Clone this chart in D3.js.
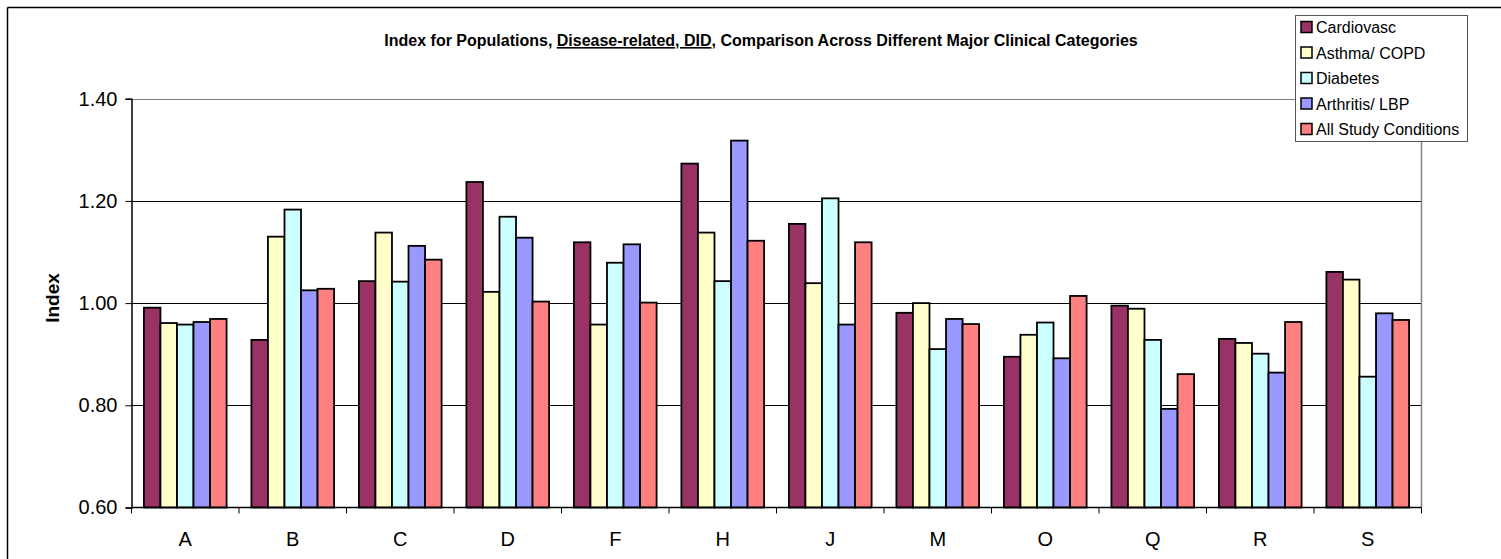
<!DOCTYPE html>
<html>
<head>
<meta charset="utf-8">
<script src="https://cdn.jsdelivr.net/npm/d3@7"></script>
<style>
  html, body { margin: 0; padding: 0; background: #fff; }
  svg { display: block; font-family: "Liberation Sans", Arial, sans-serif; }
</style>
</head>
<body>
<svg id="chart" width="1501" height="559"></svg>
<script>
const categories = ["A", "B", "C", "D", "F", "H", "J", "M", "O", "Q", "R", "S"];
const seriesNames = ["Cardiovasc", "Asthma/ COPD", "Diabetes", "Arthritis/ LBP", "All Study Conditions"];
const seriesColors = ["#993366", "#FFFFCC", "#CCFFFF", "#9999FF", "#FF8080"];
const cardiovasc = [0.991, 0.928, 1.043, 1.237, 1.119, 1.273, 1.155, 0.981, 0.895, 0.995, 0.930, 1.061];
const asthmaCopd = [0.961, 1.130, 1.138, 1.022, 0.958, 1.138, 1.039, 1.000, 0.938, 0.989, 0.922, 1.046];
const diabetes   = [0.958, 1.183, 1.042, 1.169, 1.079, 1.043, 1.205, 0.910, 0.962, 0.928, 0.901, 0.856];
const arthritis  = [0.963, 1.025, 1.112, 1.128, 1.115, 1.318, 0.958, 0.969, 0.892, 0.793, 0.864, 0.980];
const allStudy   = [0.969, 1.028, 1.085, 1.003, 1.001, 1.122, 1.119, 0.959, 1.014, 0.861, 0.963, 0.967];
const yTicks = [0.60, 0.80, 1.00, 1.20, 1.40];
const titleParts = ["Index for Populations, ", "Disease-related, DID", ", Comparison Across Different Major Clinical Categories"];

const seriesValues = [cardiovasc, asthmaCopd, diabetes, arthritis, allStudy];

const svg = d3.select("#chart");
const plot = { left: 131.5, right: 1421.5, top: 98.7, bottom: 507.5 };

// outer chart border (left & top visible)
svg.append("line").attr("x1", 7.5).attr("y1", 7.5).attr("x2", 1501).attr("y2", 7.5).attr("stroke", "#000").attr("stroke-width", 1.5);
svg.append("line").attr("x1", 7.5).attr("y1", 7.5).attr("x2", 7.5).attr("y2", 559).attr("stroke", "#000").attr("stroke-width", 1.5);

const x0 = d3.scaleBand().domain(categories).range([plot.left, plot.right])
  .paddingInner(1.5 / 6.5).paddingOuter(0.75 / 6.5);
const x1 = d3.scaleBand().domain(d3.range(seriesNames.length)).range([0, x0.bandwidth()]);
const y = d3.scaleLinear().domain([0.6, 1.4]).range([plot.bottom, plot.top]);

// gridlines
svg.append("g").selectAll("line").data(yTicks.filter(t => t > 0.6 && t < 1.4)).join("line")
  .attr("x1", plot.left).attr("x2", plot.right)
  .attr("y1", d => Math.round(y(d)) + 0.5).attr("y2", d => Math.round(y(d)) + 0.5)
  .attr("stroke", "#000").attr("stroke-width", 1);

// plot border top & right (gray)
svg.append("line").attr("x1", plot.left).attr("x2", plot.right)
  .attr("y1", Math.round(y(1.4)) + 0.5).attr("y2", Math.round(y(1.4)) + 0.5)
  .attr("stroke", "#808080").attr("stroke-width", 1.2);
svg.append("line").attr("x1", plot.right).attr("x2", plot.right)
  .attr("y1", y(1.4)).attr("y2", y(0.6))
  .attr("stroke", "#808080").attr("stroke-width", 1.5);

// bars
const groups = svg.append("g").selectAll("g").data(categories).join("g")
  .attr("transform", d => `translate(${x0(d)},0)`);
groups.selectAll("rect").data((d, i) => seriesValues.map((s, k) => ({ k, v: s[i] }))).join("rect")
  .attr("x", d => x1(d.k))
  .attr("width", x1.bandwidth())
  .attr("y", d => y(d.v))
  .attr("height", d => y(0.6) - y(d.v))
  .attr("fill", d => seriesColors[d.k])
  .attr("stroke", "#000").attr("stroke-width", 1.8);

// y axis
const yAxis = d3.axisLeft(y).tickValues(yTicks).tickFormat(d3.format(".2f")).tickSize(6).tickPadding(8);
const gy = svg.append("g").attr("transform", `translate(${plot.left},0)`).call(yAxis);
gy.select(".domain").attr("stroke", "#000").attr("stroke-width", 1.5);
gy.selectAll(".tick line").attr("stroke", "#000");
gy.selectAll(".tick text").attr("font-size", 20).attr("fill", "#000")
  .attr("font-family", "Liberation Sans, Arial, sans-serif");

// x axis
const xTickScale = d3.scalePoint().domain(d3.range(categories.length + 1)).range([plot.left, plot.right]);
const gx = svg.append("g").attr("transform", `translate(0,${plot.bottom})`);
gx.append("line").attr("x1", plot.left).attr("x2", plot.right).attr("y1", 0).attr("y2", 0)
  .attr("stroke", "#000").attr("stroke-width", 1.5);
gx.selectAll("line.tk").data(d3.range(categories.length + 1)).join("line").attr("class", "tk")
  .attr("x1", d => xTickScale(d)).attr("x2", d => xTickScale(d)).attr("y1", 0).attr("y2", 6)
  .attr("stroke", "#000");
gx.selectAll("text").data(categories).join("text")
  .attr("x", d => x0(d) + x0.bandwidth() / 2).attr("y", 38)
  .attr("text-anchor", "middle").attr("font-size", 20).attr("fill", "#000").text(d => d);

// y-axis title
svg.append("text").attr("transform", "translate(59,298) rotate(-90)")
  .attr("text-anchor", "middle").attr("font-size", 19).attr("font-weight", "bold").text("Index");

// chart title
const title = svg.append("text").attr("x", 761).attr("y", 46).attr("text-anchor", "middle")
  .attr("font-size", 16).attr("font-weight", "bold").attr("fill", "#000");
titleParts.forEach((t, i) => {
  const ts = title.append("tspan").text(t);
  if (i === 1) ts.attr("text-decoration", "underline").style("text-decoration", "underline");
});

// legend
const legend = svg.append("g");
legend.append("rect").attr("x", 1295.5).attr("y", 15.5).attr("width", 172).attr("height", 126)
  .attr("fill", "#fff").attr("stroke", "#555").attr("stroke-width", 1);
const ly = d3.scalePoint().domain(seriesNames).range([27, 129]);
const li = legend.selectAll("g.item").data(seriesNames).join("g").attr("class", "item")
  .attr("transform", d => `translate(1301,${ly(d)})`);
li.append("rect").attr("x", 0).attr("y", -5.5).attr("width", 11).attr("height", 11)
  .attr("fill", (d, i) => seriesColors[i]).attr("stroke", "#000").attr("stroke-width", 1.5);
li.append("text").attr("x", 15).attr("y", 6).attr("font-size", 16).attr("fill", "#000").text(d => d);
</script>
</body>
</html>
